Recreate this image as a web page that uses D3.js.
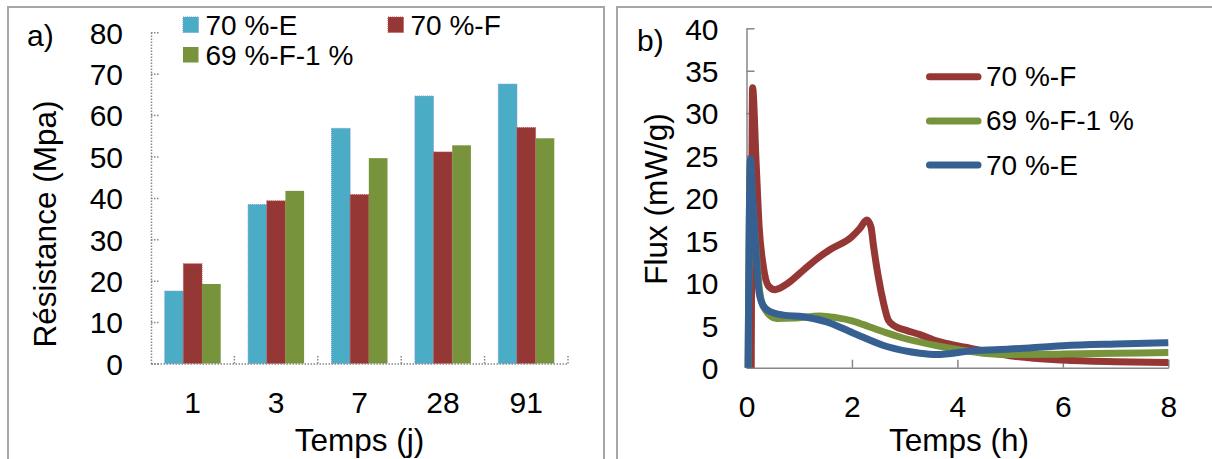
<!DOCTYPE html>
<html>
<head>
<meta charset="utf-8">
<script src="https://cdn.jsdelivr.net/npm/d3@7"></script>
<style>
  html, body { margin: 0; padding: 0; background: #fff; }
  svg { display: block; font-family: "Liberation Sans", Arial, sans-serif; }
</style>
</head>
<body>
<svg id="chart" width="1212" height="459"></svg>
<script>
// ---------- Data: panel a) ----------
const categories = ['1', '3', '7', '28', '91'];
const barSeries = ['70 %-E', '70 %-F', '69 %-F-1 %'];
const resE  = [17.5, 38.4, 56.8, 64.6, 67.5];
const resF  = [24.1, 39.3, 40.8, 51.1, 57.0];
const resF1 = [19.2, 41.7, 49.6, 52.7, 54.4];
const yTicksA = [0, 10, 20, 30, 40, 50, 60, 70, 80];

// ---------- Data: panel b) ----------
const hoursF  = [0.09, 0.115, 0.18, 0.24, 0.32, 0.42, 0.54, 0.75, 1.08, 1.35, 1.58, 1.99, 2.15, 2.28, 2.36, 2.41, 2.5, 2.6, 2.69, 2.8, 3.03, 3.29, 3.54, 3.92, 4.24, 5, 6, 7, 8];
const fluxF   = [0, 33, 24.5, 16.6, 11.9, 9.6, 9.2, 9.8, 11.5, 12.9, 13.9, 15.4, 16.4, 17.4, 16.6, 14.3, 10.7, 7.6, 5.6, 4.95, 4.4, 3.9, 3.3, 2.7, 2.3, 1.4, 0.9, 0.7, 0.6];
const hoursF1 = [0.03, 0.075, 0.11, 0.16, 0.25, 0.32, 0.57, 0.9, 1.39, 1.7, 2.02, 2.34, 2.66, 2.97, 3.6, 4.05, 4.5, 5, 6, 7, 8];
const fluxF1  = [0, 24, 20, 15.5, 9, 7.2, 5.8, 5.85, 6.1, 5.9, 5.5, 4.8, 4.1, 3.5, 2.6, 2.1, 1.7, 1.55, 1.6, 1.7, 1.8];
const hoursE  = [0.03, 0.075, 0.11, 0.15, 0.24, 0.32, 0.45, 0.7, 1.08, 1.52, 2.02, 2.66, 3.29, 3.6, 4.3, 5, 6, 7, 8];
const fluxE   = [0, 24.6, 20.6, 16.6, 8.8, 7.3, 6.6, 6.2, 6.0, 5.4, 4.1, 2.5, 1.7, 1.55, 2.0, 2.2, 2.6, 2.8, 2.95];
const lineSeries = ['70 %-F', '69 %-F-1 %', '70 %-E'];
const yTicksB = [0, 5, 10, 15, 20, 25, 30, 35, 40];
const xTicksB = [0, 2, 4, 6, 8];

// ---------- Styles ----------
const barColors  = { '70 %-E': '#4bacc6', '70 %-F': '#953735', '69 %-F-1 %': '#77933c' };
const barStrokes = { '70 %-E': '#6f9bd8', '70 %-F': '#c0504d', '69 %-F-1 %': 'none' };
const lineColors = { '70 %-F': '#953735', '69 %-F-1 %': '#77933c', '70 %-E': '#376092' };
const axisGray = '#868686';
const tickFont = 30, titleFont = 31.5, legendFont = 28;

const svg = d3.select('#chart');

// Panel frames
svg.append('rect').attr('x', 8).attr('y', 7).attr('width', 596).attr('height', 480)
  .attr('fill', '#fff').attr('stroke', '#a6a6a6').attr('stroke-width', 2);
svg.append('rect').attr('x', 617).attr('y', 7).attr('width', 620).attr('height', 480)
  .attr('fill', '#fff').attr('stroke', '#a6a6a6').attr('stroke-width', 2);

// ================= Panel a) =================
const ga = svg.append('g');
const xA = d3.scaleBand().domain(categories).range([151, 568]).paddingInner(0).paddingOuter(0);
const xA1 = d3.scaleBand().domain(barSeries).range([0, xA.bandwidth()]).paddingInner(0).paddingOuter(0.734);
const yA = d3.scaleLinear().domain([0, 80]).range([363.5, 32.3]);

const barValues = { '70 %-E': resE, '70 %-F': resF, '69 %-F-1 %': resF1 };

// Y axis (dotted)
const yAxisA = ga.append('g').attr('transform', `translate(${xA.range()[0]},0)`)
  .call(d3.axisLeft(yA).tickValues(yTicksA).tickSizeInner(-9).tickSizeOuter(0).tickPadding(28));
yAxisA.select('.domain').attr('stroke', axisGray).attr('stroke-width', 1.5).attr('stroke-dasharray', '1.5,1.5');
yAxisA.selectAll('.tick line').attr('stroke', axisGray).attr('stroke-width', 1.5).attr('stroke-dasharray', '1.5,1.5');
yAxisA.selectAll('.tick text').attr('font-size', tickFont).attr('fill', '#000').attr('dy', '0.36em')
  .attr('font-family', '"Liberation Sans", Arial, sans-serif');

// Bars
categories.forEach((c, i) => {
  barSeries.forEach(s => {
    const v = barValues[s][i];
    ga.append('rect')
      .attr('x', xA(c) + xA1(s))
      .attr('y', yA(v))
      .attr('width', xA1.bandwidth())
      .attr('height', yA(0) - yA(v))
      .attr('fill', barColors[s])
      .attr('stroke', barStrokes[s])
      .attr('stroke-width', barStrokes[s] === 'none' ? 0 : 1)
      .attr('stroke-dasharray', '1,1');
  });
});

// X axis (dotted) with labels at category centres
const xAxisA = ga.append('g').attr('transform', `translate(0,${yA(0)})`)
  .call(d3.axisBottom(xA).tickSizeInner(0).tickSizeOuter(0).tickPadding(28));
xAxisA.select('.domain').attr('stroke', axisGray).attr('stroke-width', 1.5).attr('stroke-dasharray', '1.5,1.5');
xAxisA.selectAll('.tick line').remove();
xAxisA.selectAll('.tick text').attr('font-size', tickFont).attr('fill', '#000')
  .attr('font-family', '"Liberation Sans", Arial, sans-serif');
// category boundary ticks (dotted, pointing up)
categories.forEach(c => {
  const bx = xA(c) + xA.bandwidth();
  ga.append('line').attr('x1', bx).attr('x2', bx).attr('y1', yA(0)).attr('y2', yA(0) - 9)
    .attr('stroke', axisGray).attr('stroke-width', 1.5).attr('stroke-dasharray', '1.5,1.5');
});

// Titles
ga.append('text').attr('x', 359.5).attr('y', 451).attr('text-anchor', 'middle')
  .attr('font-size', titleFont).text('Temps (j)');
ga.append('text').attr('transform', 'translate(56,224) rotate(-90)').attr('text-anchor', 'middle')
  .attr('font-size', titleFont).text('Résistance (Mpa)');
ga.append('text').attr('x', 27).attr('y', 46).attr('font-size', 30).text('a)');

// Legend a)
const legA = [
  { s: '70 %-E', x: 183, y: 17 },
  { s: '70 %-F', x: 388, y: 17 },
  { s: '69 %-F-1 %', x: 183, y: 47 }
];
legA.forEach(d => {
  ga.append('rect').attr('x', d.x).attr('y', d.y).attr('width', 15.5).attr('height', 15.5)
    .attr('fill', barColors[d.s]).attr('stroke', barStrokes[d.s])
    .attr('stroke-width', barStrokes[d.s] === 'none' ? 0 : 1).attr('stroke-dasharray', '1,1');
  ga.append('text').attr('x', d.x + 22.5).attr('y', d.y + 17.5).attr('font-size', legendFont).text(d.s);
});

// ================= Panel b) =================
const gb = svg.append('g');
const xB = d3.scaleLinear().domain([0, 8]).range([746.5, 1168.3]);
const yB = d3.scaleLinear().domain([0, 40]).range([367.7, 28.3]);

const yAxisB = gb.append('g').attr('transform', `translate(${xB(0)},0)`)
  .call(d3.axisLeft(yB).tickValues(yTicksB).tickSizeInner(-8).tickSizeOuter(0).tickPadding(28));
const xAxisB = gb.append('g').attr('transform', `translate(0,${yB(0)})`)
  .call(d3.axisBottom(xB).tickValues(xTicksB).tickSizeInner(-8).tickSizeOuter(0).tickPadding(28));
[yAxisB, xAxisB].forEach(a => {
  a.select('.domain').attr('stroke', axisGray).attr('stroke-width', 1.5);
  a.selectAll('.tick line').attr('stroke', axisGray).attr('stroke-width', 1.5);
  a.selectAll('.tick text').attr('font-size', tickFont).attr('fill', '#000')
    .attr('font-family', '"Liberation Sans", Arial, sans-serif');
});
yAxisB.selectAll('.tick text').attr('dy', '0.36em');

const lineData = {
  '70 %-F': hoursF.map((h, i) => [h, fluxF[i]]),
  '69 %-F-1 %': hoursF1.map((h, i) => [h, fluxF1[i]]),
  '70 %-E': hoursE.map((h, i) => [h, fluxE[i]])
};
const lineGen = d3.line().x(d => xB(d[0])).y(d => yB(d[1])).curve(d3.curveMonotoneX);
lineSeries.forEach(s => {
  gb.append('path').attr('d', lineGen(lineData[s]))
    .attr('fill', 'none').attr('stroke', lineColors[s]).attr('stroke-width', 7)
    .attr('stroke-linejoin', 'round').attr('stroke-linecap', 'butt');
});

gb.append('text').attr('x', 959).attr('y', 451).attr('text-anchor', 'middle')
  .attr('font-size', titleFont).text('Temps (h)');
gb.append('text').attr('transform', 'translate(667,199) rotate(-90)').attr('text-anchor', 'middle')
  .attr('font-size', titleFont).text('Flux (mW/g)');
gb.append('text').attr('x', 637).attr('y', 50.5).attr('font-size', 30).text('b)');

// Legend b)
lineSeries.forEach((s, i) => {
  const ly = 76.7 + i * 44.2;
  gb.append('line').attr('x1', 929.5).attr('x2', 978).attr('y1', ly).attr('y2', ly)
    .attr('stroke', lineColors[s]).attr('stroke-width', 7).attr('stroke-linecap', 'round');
  gb.append('text').attr('x', 986).attr('y', ly + 9.5).attr('font-size', legendFont).text(s);
});
</script>
</body>
</html>
